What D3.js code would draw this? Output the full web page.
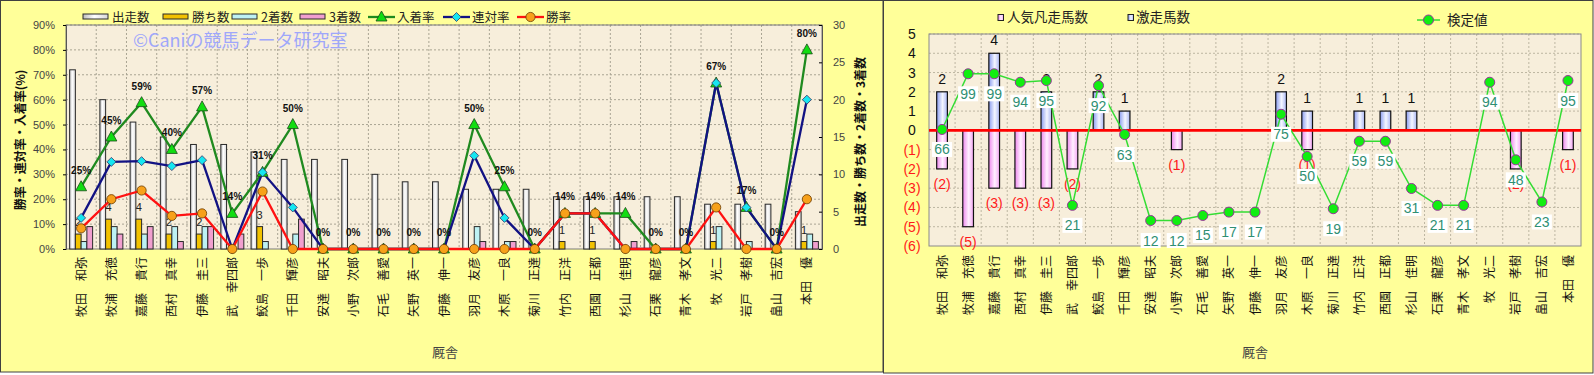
<!DOCTYPE html>
<html lang="ja">
    <head>
        <meta charset="utf-8">
        <title>厩舎成績</title>
        <style type="text/css">
            body { margin: 0; background: #fff; }
            svg text { font-family: "Noto Sans CJK JP", "Noto Sans", sans-serif; }
            .num { font-family: "Liberation Sans", "Noto Sans", sans-serif; }
        </style>
    </head>
    <body>

<script src="https://cdn.jsdelivr.net/npm/d3@7/dist/d3.min.js"></script>

<script>

    var w = 1594;
    var h = 375;

    // data
    var names = ["牧田　和弥","牧浦　充徳","嘉藤　貴行","西村　真幸","伊藤　圭三","武　幸四郎","鮫島　一歩",
                 "千田　輝彦","安達　昭夫","小野　次郎","石毛　善愛","矢野　英一","伊藤　伸一","羽月　友彦",
                 "木原　一良","菊川　正達","竹内　正洋","西園　正都","杉山　佳明","石栗　龍彦","青木　孝文",
                 "牧　光二","岩戸　孝樹","畠山　吉宏","本田　優"];
    var runs    = [24,20,17,15,14,14,13,12,12,12,10,9,9,8,8,8,7,7,7,7,7,6,6,6,5];
    var wins    = [2,4,4,2,2,0,3,0,0,0,0,0,0,0,0,0,1,1,0,0,0,1,0,0,1];
    var seconds = [1,3,2,3,3,0,1,2,0,0,0,0,0,3,1,0,0,0,0,0,0,3,1,0,2];
    var thirds  = [3,2,3,1,3,2,0,4,0,0,0,0,0,1,1,0,0,0,1,0,0,0,0,0,1];
    var placeRate  = [25,45,58.8,40,57.1,14.3,30.8,50,0,0,0,0,0,50,25,0,14.3,14.3,14.3,0,0,66.7,16.7,0,80];
    var rentaiRate = [12.5,35,35.3,33.3,35.7,0,30.8,16.7,0,0,0,0,0,37.5,12.5,0,14.3,14.3,0,0,0,66.7,16.7,0,60];
    var winRate    = [8.3,20,23.5,13.3,14.3,0,23.1,0,0,0,0,0,0,0,0,0,14.3,14.3,0,0,0,16.7,0,0,20];

    var gekisou = [2,0,4,0,2,0,2,1,0,0,0,0,0,2,1,0,1,1,1,0,0,0,0,0,0];
    var bonsou  = [2,5,3,3,3,2,0,0,0,1,0,0,0,0,1,0,0,0,0,0,0,0,2,0,1];
    var kentei  = [66,99,99,94,95,21,92,63,12,12,15,17,17,75,50,19,59,59,31,21,21,94,48,23,95];

    var pctTicks = [0,10,20,30,40,50,60,70,80,90];
    var cntTicks = [0,5,10,15,20,25,30];
    var levelTicks = [-6,-5,-4,-3,-2,-1,0,1,2,3,4,5];

    var svg = d3.select("body")
            .append("svg")
            .attr("width", w)
            .attr("height", h);

    // gradients for bars
    var defs = svg.append("defs");
    function grad(id, stops) {
        var g = defs.append("linearGradient").attr("id", id)
            .attr("x1", "0%").attr("x2", "100%").attr("y1", "0%").attr("y2", "0%");
        stops.forEach(function(s) {
            g.append("stop").attr("offset", s[0]).attr("stop-color", s[1]);
        });
    }
    grad("gRun", [["0%","#bcbcbc"],["45%","#ffffff"],["100%","#d6d6d6"]]);
    grad("gBlue", [["0%","#8a9cf0"],["55%","#f4f6ff"],["100%","#aab6f4"]]);
    grad("gPink", [["0%","#ee88ee"],["55%","#fff0ff"],["100%","#f3a6f3"]]);

    // panels
    svg.append("rect").attr("x", 0.5).attr("y", 0.5).attr("width", 882.5).attr("height", 371.5)
        .attr("fill", "#ffff99").attr("stroke", "#404040");
    svg.append("rect").attr("x", 883.5).attr("y", 0.5).attr("width", 709.5).attr("height", 372.5)
        .attr("fill", "#ffff99").attr("stroke", "#404040");

    // ===== left chart =====
    var xL = d3.scaleBand().domain(names).range([66, 822]);
    var bw = xL.bandwidth();
    var xSub = d3.scaleBand().domain(["runs","wins","seconds","thirds"])
        .range([0, bw]).paddingInner(0).paddingOuter(0.63);
    var yP = d3.scaleLinear().domain([0, 90]).range([249, 25]);
    var yC = d3.scaleLinear().domain([0, 30]).range([249, 25]);
    function cx(i) { return xL(names[i]) + bw / 2; }

    var gl = svg.append("g");

    gl.append("rect").attr("x", 66).attr("y", 25).attr("width", 756).attr("height", 224)
        .attr("fill", "#f7eedb");

    // grid
    gl.selectAll(".hgrid").data(pctTicks.slice(1)).enter().append("line")
        .attr("x1", 66).attr("x2", 822)
        .attr("y1", function(d) { return yP(d); }).attr("y2", function(d) { return yP(d); })
        .attr("stroke", "#a9a493").attr("stroke-dasharray", "2,2");
    gl.selectAll(".vgrid").data(names.slice(1)).enter().append("line")
        .attr("x1", function(d) { return xL(d); }).attr("x2", function(d) { return xL(d); })
        .attr("y1", 25).attr("y2", 249)
        .attr("stroke", "#a9a493").attr("stroke-dasharray", "2,2");

    gl.append("rect").attr("x", 66).attr("y", 25).attr("width", 756).attr("height", 224)
        .attr("fill", "none").attr("stroke", "#7a7a7a");

    gl.append("text").attr("x", 133).attr("y", 47).attr("fill", "#9fa7fa")
        .style("font-size", "18px").text("©Caniの競馬データ研究室");

    // bars
    var barSeries = [
        {key: "runs", vals: runs, fill: "url(#gRun)"},
        {key: "wins", vals: wins, fill: "#f2c200"},
        {key: "seconds", vals: seconds, fill: "#bdf1f3"},
        {key: "thirds", vals: thirds, fill: "#f19fcf"}
    ];
    barSeries.forEach(function(s) {
        gl.selectAll(".bar-" + s.key).data(s.vals).enter().append("rect")
            .attr("x", function(d, i) { return xL(names[i]) + xSub(s.key); })
            .attr("y", function(d) { return yC(d); })
            .attr("width", xSub.bandwidth())
            .attr("height", function(d) { return yC(0) - yC(d); })
            .attr("fill", s.fill)
            .attr("stroke", "#2a2a2a").attr("stroke-width", 1)
            .style("display", function(d) { return d > 0 ? null : "none"; });
    });

    // win count labels
    wins.forEach(function(d, i) {
        if (d > 0) {
            gl.append("text").attr("class", "num")
                .attr("x", xL(names[i]) + xSub("wins") + xSub.bandwidth() / 2)
                .attr("y", yC(d) - 8)
                .attr("text-anchor", "middle")
                .attr("fill", "#222")
                .style("font-size", "11px")
                .text(d);
        }
    });

    // lines
    var lineSeries = [
        {vals: placeRate, stroke: "#1f8a1f", fill: "#11dd11", mark: "tri"},
        {vals: rentaiRate, stroke: "#121283", fill: "#16e6f0", mark: "dia"},
        {vals: winRate, stroke: "#ff1111", fill: "#f7a11a", mark: "cir"}
    ];
    var line = d3.line()
        .x(function(d, i) { return cx(i); })
        .y(function(d) { return yP(d); });

    function marker(g, type, fill, x, y) {
        if (type === "tri") {
            g.append("path").attr("d", "M0,-6L5.5,4L-5.5,4Z")
                .attr("transform", "translate(" + x + "," + y + ")")
                .attr("fill", fill).attr("stroke", "#1a4a1a").attr("stroke-width", 0.8);
        } else if (type === "dia") {
            g.append("path").attr("d", "M0,-4.5L4.5,0L0,4.5L-4.5,0Z")
                .attr("transform", "translate(" + x + "," + y + ")")
                .attr("fill", fill).attr("stroke", "#333366").attr("stroke-width", 0.8);
        } else if (type === "cir") {
            g.append("circle").attr("cx", x).attr("cy", y).attr("r", 4.6)
                .attr("fill", fill).attr("stroke", "#6a3a00").attr("stroke-width", 0.8);
        } else if (type === "kcir") {
            g.append("circle").attr("cx", x).attr("cy", y).attr("r", 5)
                .attr("fill", fill).attr("stroke", "#993399").attr("stroke-width", 1);
        }
    }

    lineSeries.forEach(function(s) {
        gl.append("path").datum(s.vals).attr("d", line)
            .attr("fill", "none").attr("stroke", s.stroke).attr("stroke-width", 2.3);
    });
    lineSeries.forEach(function(s) {
        s.vals.forEach(function(d, i) { marker(gl, s.mark, s.fill, cx(i), yP(d)); });
    });

    // place rate labels
    gl.selectAll(".plab").data(placeRate).enter().append("text").attr("class", "num")
        .attr("x", function(d, i) { return cx(i); })
        .attr("y", function(d) { return yP(d) - 13; })
        .attr("text-anchor", "middle")
        .style("font-size", "10px").style("font-weight", "bold")
        .attr("fill", "#111")
        .text(function(d) { return Math.round(d) + "%"; });

    // axes
    var axL = d3.axisLeft(yP).tickValues(pctTicks).tickFormat(function(d) { return d + "%"; })
        .tickSize(3).tickPadding(8);
    var gax = gl.append("g").attr("transform", "translate(66,0)").call(axL);
    gax.select(".domain").attr("stroke", "#555");
    gax.selectAll("text").attr("class", "num").style("font-size", "11px").attr("fill", "#444");

    var axR = d3.axisRight(yC).tickValues(cntTicks).tickSize(-3).tickPadding(11);
    var gar = gl.append("g").attr("transform", "translate(822,0)").call(axR);
    gar.select(".domain").attr("stroke", "#555");
    gar.selectAll("text").attr("class", "num").style("font-size", "11px").attr("fill", "#444");

    // category labels
    gl.selectAll(".xlab").data(names).enter().append("text")
        .attr("transform", function(d) { return "translate(" + (xL(d) + bw / 2) + ",257) rotate(-90)"; })
        .attr("text-anchor", "end").attr("dy", "0.38em")
        .style("font-size", "12px").attr("fill", "#111")
        .text(function(d) { return d; });

    gl.append("text").attr("x", 445).attr("y", 357).attr("text-anchor", "middle")
        .style("font-size", "13px").attr("fill", "#444").text("厩舎");

    gl.append("text").attr("transform", "translate(20,140) rotate(-90)")
        .attr("text-anchor", "middle").attr("dy", "0.38em")
        .style("font-size", "12px").style("font-weight", "bold").attr("fill", "#111")
        .text("勝率・連対率・入着率(%)");
    gl.append("text").attr("transform", "translate(860,142) rotate(-90)")
        .attr("text-anchor", "middle").attr("dy", "0.38em")
        .style("font-size", "12px").style("font-weight", "bold").attr("fill", "#111")
        .text("出走数・勝ち数・2着数・3着数");

    // legend
    var legL = [
        {name: "出走数", x: 83, fill: "url(#gRun)"},
        {name: "勝ち数", x: 163, fill: "#f2c200"},
        {name: "2着数", x: 232, fill: "#bdf1f3"},
        {name: "3着数", x: 300, fill: "#f19fcf"},
        {name: "入着率", x: 368, line: lineSeries[0]},
        {name: "連対率", x: 443, line: lineSeries[1]},
        {name: "勝率", x: 517, line: lineSeries[2]}
    ];
    legL.forEach(function(l) {
        if (l.line) {
            gl.append("line").attr("x1", l.x).attr("x2", l.x + 27).attr("y1", 17).attr("y2", 17)
                .attr("stroke", l.line.stroke).attr("stroke-width", 2.3);
            marker(gl, l.line.mark, l.line.fill, l.x + 13.5, 17);
        } else {
            gl.append("rect").attr("x", l.x).attr("y", 14).attr("width", 25).attr("height", 5)
                .attr("fill", l.fill).attr("stroke", "#2a2a2a");
        }
        gl.append("text").attr("x", l.x + 29).attr("y", 21.5)
            .style("font-size", "12.5px").attr("fill", "#222").text(l.name);
    });

    // ===== right chart =====
    var xR = d3.scaleBand().domain(names).range([929, 1581]);
    var bw2 = xR.bandwidth();
    var yR = d3.scaleLinear().domain([-6, 5]).range([246, 34]);
    var yK = d3.scaleLinear().domain([-3.1, 122.6]).range([246, 34]);
    function cx2(i) { return xR(names[i]) + bw2 / 2; }

    var gr = svg.append("g");
    gr.append("rect").attr("x", 929).attr("y", 34).attr("width", 652).attr("height", 212)
        .attr("fill", "#f7eedb");
    gr.selectAll(".hgrid").data(levelTicks.slice(1)).enter().append("line")
        .attr("x1", 929).attr("x2", 1581)
        .attr("y1", function(d) { return yR(d); }).attr("y2", function(d) { return yR(d); })
        .attr("stroke", "#bdb6a2").attr("stroke-dasharray", "2,2");
    gr.selectAll(".vgrid").data(names.slice(1)).enter().append("line")
        .attr("x1", function(d) { return xR(d); }).attr("x2", function(d) { return xR(d); })
        .attr("y1", 34).attr("y2", 246)
        .attr("stroke", "#bdb6a2").attr("stroke-dasharray", "2,2");
    gr.append("rect").attr("x", 929).attr("y", 34).attr("width", 652).attr("height", 212)
        .attr("fill", "none").attr("stroke", "#8a8a8a");

    var barW = 10.7;
    gr.selectAll(".gbar").data(gekisou).enter().append("rect")
        .attr("x", function(d, i) { return cx2(i) - barW / 2; })
        .attr("y", function(d) { return yR(d); })
        .attr("width", barW)
        .attr("height", function(d) { return yR(0) - yR(d); })
        .attr("fill", "url(#gBlue)").attr("stroke", "#111").attr("stroke-width", 1.2)
        .style("display", function(d) { return d > 0 ? null : "none"; });
    gr.selectAll(".bbar").data(bonsou).enter().append("rect")
        .attr("x", function(d, i) { return cx2(i) - barW / 2; })
        .attr("y", yR(0))
        .attr("width", barW)
        .attr("height", function(d) { return yR(-d) - yR(0); })
        .attr("fill", "url(#gPink)").attr("stroke", "#111").attr("stroke-width", 1.2)
        .style("display", function(d) { return d > 0 ? null : "none"; });

    gekisou.forEach(function(d, i) {
        if (d > 0) {
            gr.append("text").attr("class", "num").attr("x", cx2(i)).attr("y", yR(d) - 8)
                .attr("text-anchor", "middle").style("font-size", "14px").attr("fill", "#111").text(d);
        }
    });
    bonsou.forEach(function(d, i) {
        if (d > 0) {
            gr.append("text").attr("class", "num").attr("x", cx2(i)).attr("y", yR(-d) + 20)
                .attr("text-anchor", "middle").style("font-size", "14px").attr("fill", "#ff1a1a")
                .text("(" + d + ")");
        }
    });

    // zero line
    gr.append("line").attr("x1", 929).attr("x2", 1581).attr("y1", yR(0)).attr("y2", yR(0))
        .attr("stroke", "#ff0000").attr("stroke-width", 2.6);

    // 検定値 line
    var kline = d3.line()
        .x(function(d, i) { return cx2(i); })
        .y(function(d) { return yK(d); });
    gr.append("path").datum(kentei).attr("d", kline)
        .attr("fill", "none").attr("stroke", "#33dd33").attr("stroke-width", 1.5);
    kentei.forEach(function(d, i) {
        gr.append("rect").attr("x", cx2(i) - 10).attr("y", yK(d) + 12.5)
            .attr("width", 20).attr("height", 15).attr("fill", "#ffffff");
        gr.append("text").attr("class", "num").attr("x", cx2(i)).attr("y", yK(d) + 25)
            .attr("text-anchor", "middle").style("font-size", "14px").attr("fill", "#2f8f73").text(d);
    });
    kentei.forEach(function(d, i) { marker(gr, "kcir", "#11ee11", cx2(i), yK(d)); });

    // y axis
    var axR2 = d3.axisLeft(yR).tickValues(levelTicks).tickSize(0)
        .tickFormat(function(d) { return d < 0 ? "(" + (-d) + ")" : d; });
    var gar2 = gr.append("g").attr("transform", "translate(929,0)").call(axR2);
    gar2.select(".domain").remove();
    gar2.selectAll("text").attr("class", "num").attr("text-anchor", "middle").attr("x", -17)
        .style("font-size", "14px")
        .attr("fill", function(d) { return d < 0 ? "#ff1a1a" : "#111"; });

    gr.selectAll(".xlab").data(names).enter().append("text")
        .attr("transform", function(d) { return "translate(" + (xR(d) + bw2 / 2) + ",255) rotate(-90)"; })
        .attr("text-anchor", "end").attr("dy", "0.38em")
        .style("font-size", "12px").attr("fill", "#111")
        .text(function(d) { return d; });

    gr.append("text").attr("x", 1255).attr("y", 357).attr("text-anchor", "middle")
        .style("font-size", "13px").attr("fill", "#444").text("厩舎");

    // legend
    gr.append("rect").attr("x", 998).attr("y", 14.5).attr("width", 5.5).attr("height", 6)
        .attr("fill", "url(#gPink)").attr("stroke", "#222");
    gr.append("text").attr("x", 1007).attr("y", 22).style("font-size", "13.5px").attr("fill", "#222")
        .text("人気凡走馬数");
    gr.append("rect").attr("x", 1128).attr("y", 14.5).attr("width", 5.5).attr("height", 6)
        .attr("fill", "url(#gBlue)").attr("stroke", "#222");
    gr.append("text").attr("x", 1136).attr("y", 22).style("font-size", "13.5px").attr("fill", "#222")
        .text("激走馬数");
    gr.append("line").attr("x1", 1417).attr("x2", 1440).attr("y1", 20).attr("y2", 20)
        .attr("stroke", "#33dd33").attr("stroke-width", 1.5);
    marker(gr, "kcir", "#11ee11", 1428.5, 20);
    gr.append("text").attr("x", 1447).attr("y", 25).style("font-size", "13.5px").attr("fill", "#222")
        .text("検定値");

</script>

    </body>
</html>
